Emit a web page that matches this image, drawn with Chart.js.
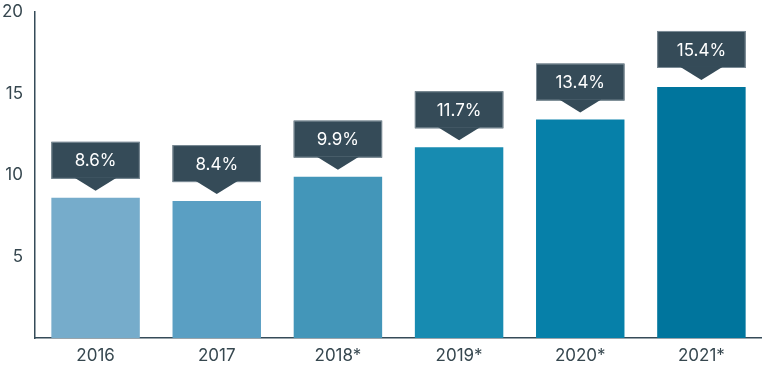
<!DOCTYPE html>
<html>
<head>
<meta charset="utf-8">
<script src="https://cdn.jsdelivr.net/npm/chart.js@4"></script>
<style>
  html, body { margin: 0; padding: 0; background: #fff; }
  #wrap { width: 762px; height: 366px; }
</style>
</head>
<body>
<div id="wrap"><canvas id="chart"></canvas></div>
<script>
const years = ["2016", "2017", "2018*", "2019*", "2020*", "2021*"];
const shares = [8.6, 8.4, 9.9, 11.7, 13.4, 15.4];
const barColors = ["#76accb", "#5a9fc3", "#4396b9", "#178bb1", "#0680a9", "#00759d"];
const yTicks = [5, 10, 15, 20];

const dark = "#354b58";

// draws the dark callout box with a pointer above each bar
const calloutPlugin = {
  id: "callouts",
  afterDatasetsDraw(chart) {
    const { ctx } = chart;
    const meta = chart.getDatasetMeta(0);
    ctx.save();
    meta.data.forEach((bar, i) => {
      const w = bar.width;
      const left = bar.x - w / 2;
      const tipY = bar.y - 7;
      const boxBottom = tipY - 12;
      const boxTop = boxBottom - 37;
      ctx.fillStyle = dark;
      ctx.strokeStyle = "#7d8d97";
      ctx.lineWidth = 1;
      ctx.fillRect(left, boxTop, w, boxBottom - boxTop);
      ctx.strokeRect(left + 0.5, boxTop + 0.5, w - 1, boxBottom - boxTop - 1);
      ctx.beginPath();
      ctx.moveTo(bar.x - 21, boxBottom - 1);
      ctx.lineTo(bar.x + 21, boxBottom - 1);
      ctx.lineTo(bar.x, tipY);
      ctx.closePath();
      ctx.fill();
      ctx.fillStyle = "#ffffff";
      ctx.font = "17px Inter, 'Liberation Sans', sans-serif";
      ctx.textAlign = "center";
      ctx.textBaseline = "middle";
      ctx.fillText(shares[i].toFixed(1) + "%", bar.x, (boxTop + boxBottom) / 2 + 1);
    });
    ctx.restore();
  }
};

new Chart(document.getElementById("chart"), {
  type: "bar",
  data: {
    labels: years,
    datasets: [{
      data: shares,
      backgroundColor: barColors,
      categoryPercentage: 0.73,
      barPercentage: 1.0
    }]
  },
  options: {
    responsive: true,
    maintainAspectRatio: false,
    animation: false,
    layout: { padding: { top: 0, right: 0, bottom: 0, left: 0 } },
    plugins: { legend: { display: false }, tooltip: { enabled: false } },
    scales: {
      x: {
        grid: { display: false, drawTicks: false },
        border: { color: dark, width: 1.5 },
        afterFit(scale) { scale.height = 28; },
        ticks: {
          color: "#36474f",
          font: { family: "Inter, 'Liberation Sans', sans-serif", size: 17 },
          padding: 8
        }
      },
      y: {
        min: 0,
        max: 20,
        grid: { display: false, drawTicks: false },
        border: { color: dark, width: 1.5 },
        afterFit(scale) {
          scale.width = 35;
          scale.paddingTop = 12;
          scale.paddingBottom = 0;
        },
        afterBuildTicks(scale) { scale.ticks = yTicks.map(v => ({ value: v })); },
        ticks: {
          color: "#36474f",
          font: { family: "Inter, 'Liberation Sans', sans-serif", size: 17 },
          padding: 12
        }
      }
    }
  },
  plugins: [calloutPlugin]
});
</script>
</body>
</html>
